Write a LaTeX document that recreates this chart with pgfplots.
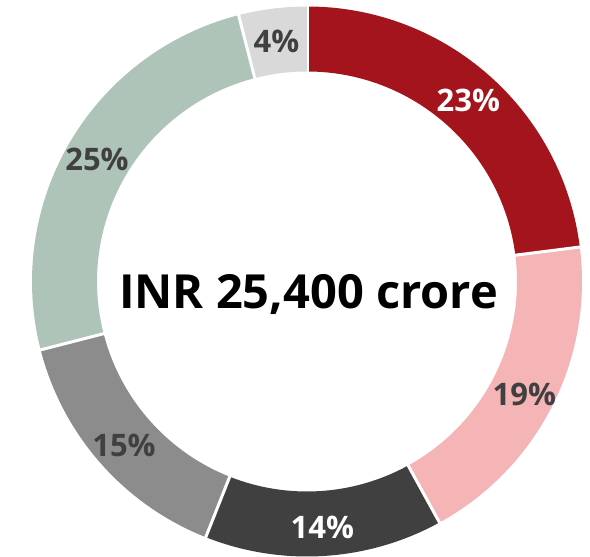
\documentclass[border=0pt]{standalone}
\usepackage{pgfplots}
\pgfplotsset{compat=1.18}
\usepackage{fontspec}
\setmainfont{Open Sans}
\definecolor{cRed}{HTML}{A3141C}
\definecolor{cPink}{HTML}{F5B4B6}
\definecolor{cDark}{HTML}{404040}
\definecolor{cGray}{HTML}{8C8C8C}
\definecolor{cSage}{HTML}{AFC4B9}
\definecolor{cLight}{HTML}{D9D9D9}
\definecolor{cText}{HTML}{404040}
\tikzset{lbl/.style={inner sep=0pt,text depth=0pt,yshift=-2pt,font=\bfseries\fontsize{31}{31}\selectfont}}
\def\Ro{275}
\def\Ri{210}
\def\Rl{244}
\begin{document}
\begin{tikzpicture}
\begin{axis}[
  scale only axis,
  width=590pt,height=557pt,
  xmin=-307,xmax=283,ymin=-275.5,ymax=281.5,
  enlargelimits=false,
  hide axis,
]
  % keep the full frame as bounding box
  \path (axis cs:-307,-275.5) rectangle (axis cs:283,281.5);
  % shares, clockwise from 12 o'clock
  \xdef\cum{0}
  \foreach \v/\c/\t in {23/cRed/white,19/cPink/cText,14/cDark/white,15/cGray/cText,25/cSage/cText,4/cLight/cText} {
    \pgfmathsetmacro\aS{90-3.6*\cum}
    \pgfmathsetmacro\aE{90-3.6*(\cum+\v)}
    \pgfmathsetmacro\aM{(\aS+\aE)/2}
    \pgfmathsetmacro\dR{\Ro-\Ri}
    \edef\cmd{%
      \noexpand\fill[\c] (axis cs:0,0) ++(\aS:\Ro pt)
        arc[start angle=\aS,end angle=\aE,radius=\Ro pt]
        -- ++(\aE:-\dR pt)
        arc[start angle=\aE,end angle=\aS,radius=\Ri pt] -- cycle;
      \noexpand\draw[white,line width=3pt] (axis cs:0,0) ++(\aS:\Ri pt-3pt) -- ++(\aS:\dR pt+6pt);
      \noexpand\path (axis cs:0,0) ++(\aM:\Rl pt)
        node[text=\t,lbl] {\v\noexpand\%};
    }
    \cmd
    \pgfmathsetmacro\newcum{\cum+\v}
    \xdef\cum{\newcum}
  }
  \node[anchor=base,font=\bfseries\fontsize{47}{47}\selectfont] at (axis cs:1.5,-27) {INR 25,400 crore};
\end{axis}
\end{tikzpicture}
\end{document}
